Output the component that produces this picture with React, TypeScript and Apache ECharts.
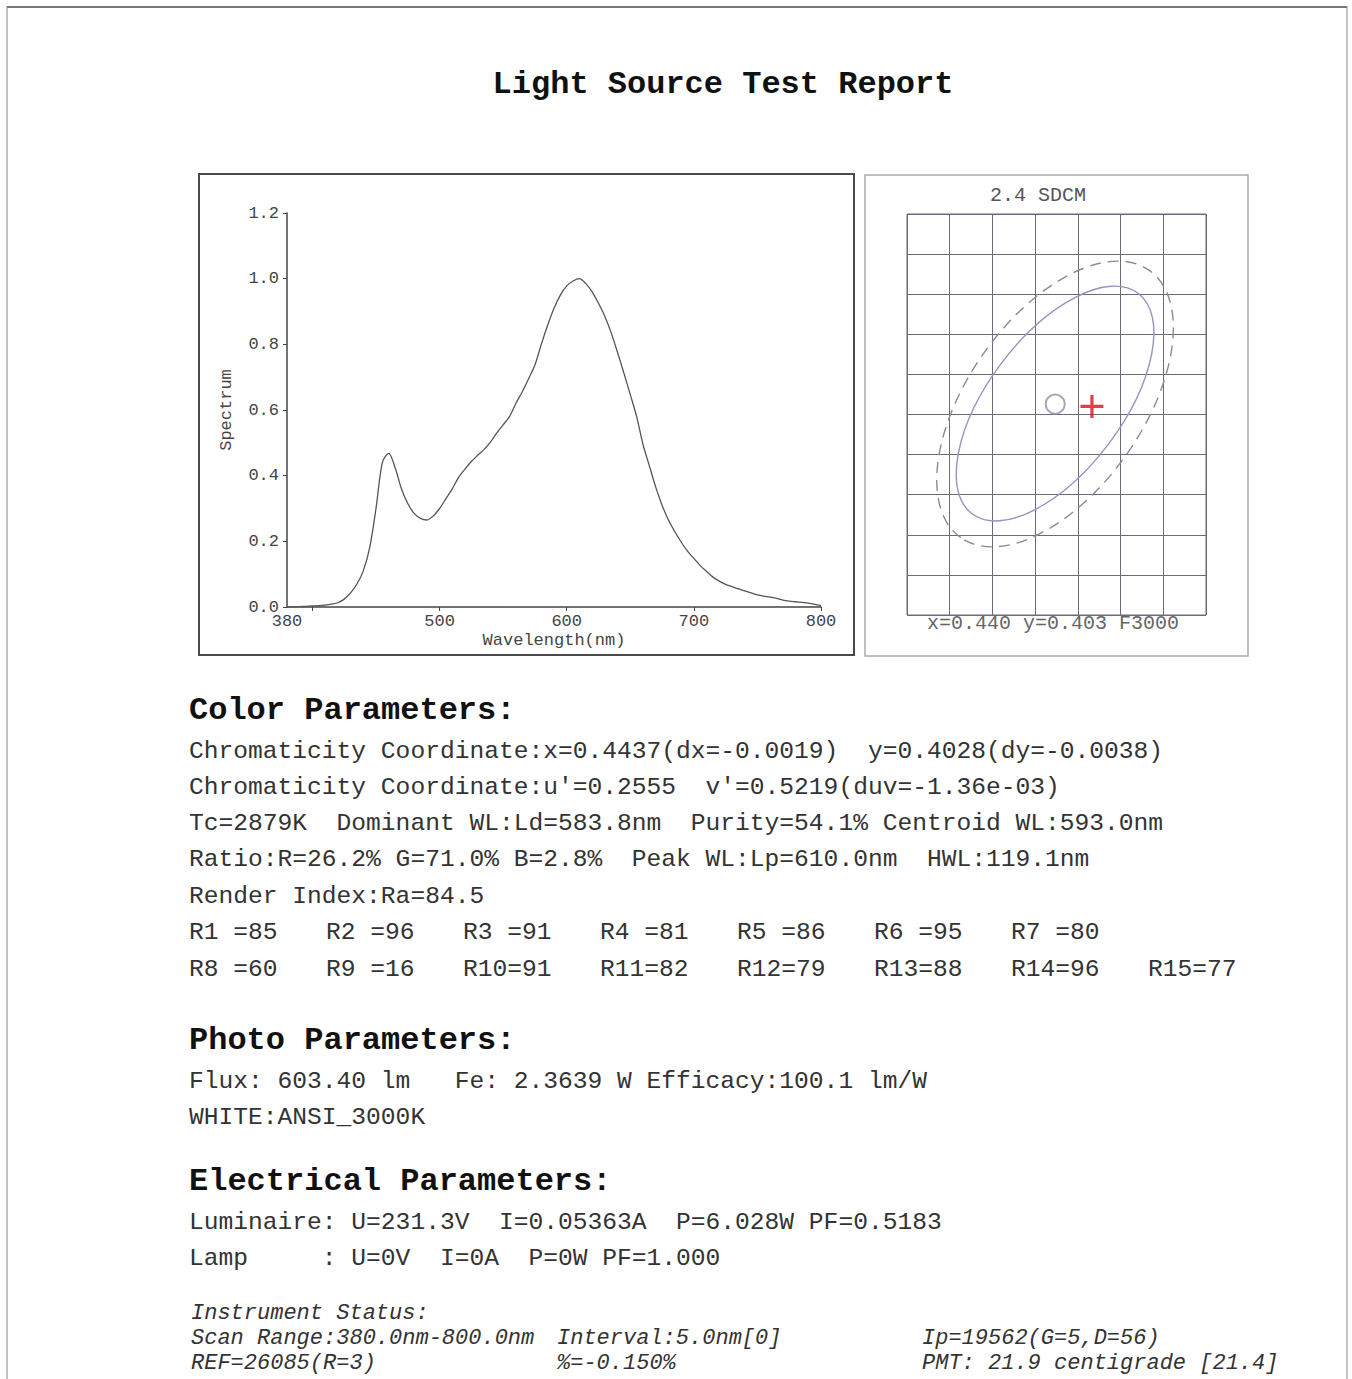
import React, { useEffect, useRef } from "react";
import * as echarts from "echarts";

// ---------- Spectrum data (relative spectral power, 5 nm scan) ----------
const WAVELENGTHS = [
  380, 385, 390, 395, 400, 405, 410, 415, 420, 425, 430, 435, 440, 445, 450, 455, 460, 465, 470, 475,
  480, 485, 490, 495, 500, 505, 510, 515, 520, 525, 530, 535, 540, 545, 550, 555, 560, 565, 570, 575,
  580, 585, 590, 595, 600, 605, 610, 615, 620, 625, 630, 635, 640, 645, 650, 655, 660, 665, 670, 675,
  680, 685, 690, 695, 700, 705, 710, 715, 720, 725, 730, 735, 740, 745, 750, 755, 760, 765, 770, 775,
  780, 785, 790, 795, 800,
];
const SPECTRUM = [
  0.0, 0.0, 0.001, 0.002, 0.003, 0.004, 0.006, 0.009, 0.013, 0.024, 0.043, 0.07, 0.11, 0.18, 0.3, 0.44,
  0.468, 0.425, 0.36, 0.315, 0.285, 0.27, 0.265, 0.277, 0.3, 0.33, 0.36, 0.395, 0.42, 0.443, 0.462, 0.48,
  0.502, 0.53, 0.555, 0.58, 0.62, 0.655, 0.695, 0.737, 0.8, 0.858, 0.91, 0.95, 0.978, 0.993, 1.0, 0.985,
  0.96, 0.925, 0.885, 0.835, 0.775, 0.712, 0.647, 0.58, 0.495, 0.43, 0.365, 0.31, 0.265, 0.23, 0.198,
  0.17, 0.148, 0.126, 0.108, 0.091, 0.079, 0.069, 0.062, 0.055, 0.049, 0.043, 0.037, 0.033, 0.03, 0.026,
  0.021, 0.018, 0.016, 0.014, 0.012, 0.008, 0.004,
];
const X_LABELS = [380, 500, 600, 700, 800];
const X_TICKS = [400, 500, 600, 700, 800];

// ---------- SDCM diagram (grid-cell units: 7 columns x 10 rows) ----------
const TARGET_POINT = [3.47, 5.26];
const MEASURED_POINT = [4.33, 5.2];
// [centerX, centerY, semiMajor, semiMinor, tiltDeg]
const ELLIPSE_OUTER = [3.466, 5.262, 3.83, 2.05, 54.8];
const ELLIPSE_INNER = [3.466, 5.274, 3.23, 1.57, 53];

// ---------- Texts ----------
const TITLE = "Light Source Test Report";
const SDCM_TITLE = "2.4 SDCM";
const SDCM_FOOT = "x=0.440 y=0.403 F3000";
const COLOR_HEAD = "Color Parameters:";
const COLOR_LINES = [
  "Chromaticity Coordinate:x=0.4437(dx=-0.0019)  y=0.4028(dy=-0.0038)",
  "Chromaticity Coordinate:u'=0.2555  v'=0.5219(duv=-1.36e-03)",
  "Tc=2879K  Dominant WL:Ld=583.8nm  Purity=54.1% Centroid WL:593.0nm",
  "Ratio:R=26.2% G=71.0% B=2.8%  Peak WL:Lp=610.0nm  HWL:119.1nm",
  "Render Index:Ra=84.5",
];
const R_ROW1 = ["R1 =85", "R2 =96", "R3 =91", "R4 =81", "R5 =86", "R6 =95", "R7 =80"];
const R_ROW2 = ["R8 =60", "R9 =16", "R10=91", "R11=82", "R12=79", "R13=88", "R14=96", "R15=77"];
const PHOTO_HEAD = "Photo Parameters:";
const PHOTO_LINES = ["Flux: 603.40 lm   Fe: 2.3639 W Efficacy:100.1 lm/W", "WHITE:ANSI_3000K"];
const ELEC_HEAD = "Electrical Parameters:";
const ELEC_LINES = [
  "Luminaire: U=231.3V  I=0.05363A  P=6.028W PF=0.5183",
  "Lamp     : U=0V  I=0A  P=0W PF=1.000",
];
const INSTR_HEAD = "Instrument Status:";
const INSTR_ROWS = [
  ["Scan Range:380.0nm-800.0nm", "Interval:5.0nm[0]", "Ip=19562(G=5,D=56)"],
  ["REF=26085(R=3)", "%=-0.150%", "PMT: 21.9 centigrade [21.4]"],
];

const MONO = "'Liberation Mono', 'DejaVu Sans Mono', monospace";

function txt(text: string, x: number, y: number, opts: any = {}) {
  return {
    type: "text",
    x,
    y,
    silent: true,
    style: {
      text,
      fontFamily: MONO,
      fontSize: 24.6,
      fill: "#333",
      textAlign: "left",
      textVerticalAlign: "middle",
      ...opts,
    },
  };
}

export default function App() {
  const ref = useRef<HTMLDivElement>(null);

  useEffect(() => {
    if (!ref.current) return;
    const chart = echarts.init(ref.current, undefined, { renderer: "svg" });

    const graphics: any[] = [];
    // page frame
    graphics.push({
      type: "rect",
      silent: true,
      shape: { x: 7, y: 7, width: 1340, height: 1400 },
      style: { fill: "none", stroke: "#b0b0b0", lineWidth: 1.5 },
    });
    graphics.push({
      type: "line",
      silent: true,
      shape: { x1: 7, y1: 7, x2: 1347, y2: 7 },
      style: { stroke: "#777", lineWidth: 2 },
    });
    // chart boxes
    graphics.push({
      type: "rect",
      silent: true,
      shape: { x: 199, y: 174, width: 655, height: 481 },
      style: { fill: "none", stroke: "#4a4a4a", lineWidth: 2 },
    });
    graphics.push({
      type: "rect",
      silent: true,
      shape: { x: 865, y: 175, width: 383, height: 481 },
      style: { fill: "none", stroke: "#aaa", lineWidth: 1.5 },
    });

    graphics.push(txt(TITLE, 723, 84, { fontSize: 32, fontWeight: "bold", fill: "#111", textAlign: "center" }));
    graphics.push(txt(SDCM_TITLE, 1038, 195, { fontSize: 20, fill: "#555", textAlign: "center" }));
    graphics.push(txt(SDCM_FOOT, 1053, 623, { fontSize: 20, fill: "#666", textAlign: "center" }));

    const head = { fontSize: 32, fontWeight: "bold", fill: "#111" };
    graphics.push(txt(COLOR_HEAD, 189, 710, head));
    COLOR_LINES.forEach((l, i) => graphics.push(txt(l, 189, 751 + i * 36.3)));
    R_ROW1.forEach((l, i) => graphics.push(txt(l, 189 + i * 137, 932)));
    R_ROW2.forEach((l, i) => graphics.push(txt(l, 189 + i * 137, 969)));

    graphics.push(txt(PHOTO_HEAD, 189, 1040, head));
    PHOTO_LINES.forEach((l, i) => graphics.push(txt(l, 189, 1081 + i * 36.3)));

    graphics.push(txt(ELEC_HEAD, 189, 1181, head));
    ELEC_LINES.forEach((l, i) => graphics.push(txt(l, 189, 1222 + i * 36.3)));

    const ital = { fontSize: 22, fontStyle: "italic", fill: "#333" };
    graphics.push(txt(INSTR_HEAD, 191, 1313, ital));
    const colX = [191, 557, 922];
    INSTR_ROWS.forEach((row, r) =>
      row.forEach((cell, c) => graphics.push(txt(cell, colX[c], 1338 + r * 25, ital)))
    );

    const axisFont = { fontFamily: MONO, fontSize: 17, color: "#444" };
    const gridLine = "#6a6a7c";

    chart.setOption({
      animation: false,
      backgroundColor: "#fff",
      grid: [
        { left: 287, top: 213, width: 534, height: 394 },
        { left: 907, top: 214, width: 299, height: 401, show: true, borderColor: gridLine, borderWidth: 1, backgroundColor: "transparent" },
      ],
      xAxis: [
        {
          gridIndex: 0,
          type: "value",
          min: 380,
          max: 800,
          axisLine: { show: true, onZero: false, lineStyle: { color: "#444", width: 1.5 } },
          axisTick: { show: true, customValues: X_TICKS, length: 4, lineStyle: { color: "#444" } },
          axisLabel: { customValues: X_LABELS, margin: 6, ...axisFont },
          splitLine: { show: false },
          name: "Wavelength(nm)",
          nameLocation: "middle",
          nameGap: 25,
          nameTextStyle: axisFont,
        },
        {
          gridIndex: 1,
          type: "value",
          min: 0,
          max: 7,
          interval: 1,
          axisLine: { show: false },
          axisTick: { show: false },
          axisLabel: { show: false },
          splitLine: { show: true, lineStyle: { color: gridLine, width: 1 } },
        },
      ],
      yAxis: [
        {
          gridIndex: 0,
          type: "value",
          min: 0,
          max: 1.2,
          interval: 0.2,
          axisLine: { show: true, onZero: false, lineStyle: { color: "#444", width: 1.5 } },
          axisTick: { show: true, length: 4, lineStyle: { color: "#444" } },
          axisLabel: { margin: 8, formatter: (v: number) => v.toFixed(1), ...axisFont },
          splitLine: { show: false },
          name: "Spectrum",
          nameLocation: "middle",
          nameRotate: 90,
          nameGap: 52,
          nameTextStyle: axisFont,
        },
        {
          gridIndex: 1,
          type: "value",
          min: 0,
          max: 10,
          interval: 1,
          axisLine: { show: false },
          axisTick: { show: false },
          axisLabel: { show: false },
          splitLine: { show: true, lineStyle: { color: gridLine, width: 1 } },
        },
      ],
      series: [
        {
          type: "line",
          xAxisIndex: 0,
          yAxisIndex: 0,
          data: WAVELENGTHS.map((w, i) => [w, SPECTRUM[i]]),
          showSymbol: false,
          smooth: 0.3,
          lineStyle: { color: "#555", width: 1.3 },
        },
        {
          type: "custom",
          xAxisIndex: 1,
          yAxisIndex: 1,
          clip: false,
          data: [ELLIPSE_OUTER, ELLIPSE_INNER],
          encode: { x: 0, y: 1 },
          renderItem: (params: any, api: any) => {
            const c = api.coord([api.value(0), api.value(1)]);
            const rx = api.size([api.value(2), 0])[0];
            const ry = api.size([api.value(3), 0])[0];
            const outer = params.dataIndex === 0;
            return {
              type: "ellipse",
              x: c[0],
              y: c[1],
              rotation: (api.value(4) * Math.PI) / 180,
              shape: { cx: 0, cy: 0, rx, ry },
              style: {
                fill: "none",
                stroke: outer ? "#8a8a96" : "#9494c0",
                lineWidth: 1.4,
                lineDash: outer ? [11, 7] : null,
              },
            };
          },
        },
        {
          type: "scatter",
          xAxisIndex: 1,
          yAxisIndex: 1,
          data: [TARGET_POINT],
          symbol: "emptyCircle",
          symbolSize: 19,
          itemStyle: { color: "#9090a8", borderWidth: 1.3 },
        },
        {
          type: "scatter",
          xAxisIndex: 1,
          yAxisIndex: 1,
          data: [MEASURED_POINT],
          symbol: "path://M4.3,0H5.7V4.3H10V5.7H5.7V10H4.3V5.7H0V4.3H4.3Z",
          symbolSize: 23,
          itemStyle: { color: "#d8101a" },
        },
      ],
      graphic: graphics,
    });

    return () => chart.dispose();
  }, []);

  return (
    <div
      ref={ref}
      style={{ position: "absolute", left: 0, top: 0, width: 1352, height: 1379, background: "#fff" }}
    />
  );
}
